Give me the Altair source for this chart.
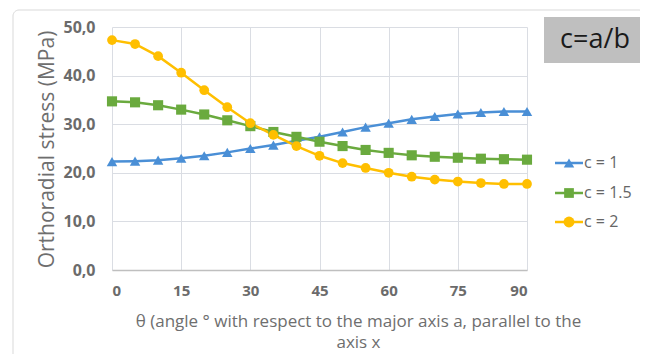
import altair as alt
import pandas as pd

angles = [0, 5, 10, 15, 20, 25, 30, 35, 40, 45, 50, 55, 60, 65, 70, 75, 80, 85, 90]
c1 = [22.3, 22.4, 22.6, 23.0, 23.5, 24.2, 25.0, 25.7, 26.6, 27.4, 28.4, 29.4, 30.2, 31.0, 31.6, 32.1, 32.4, 32.6, 32.6]
c15 = [34.7, 34.5, 33.9, 33.0, 32.0, 30.8, 29.6, 28.4, 27.4, 26.4, 25.5, 24.7, 24.1, 23.6, 23.3, 23.1, 22.9, 22.8, 22.7]
c2 = [47.3, 46.5, 44.0, 40.6, 37.0, 33.5, 30.2, 27.8, 25.5, 23.5, 22.0, 21.0, 20.0, 19.2, 18.6, 18.2, 17.9, 17.7, 17.7]

series_names = ["c = 1", "c = 1.5", "c = 2"]
series_values = [c1, c15, c2]
colors = ["#4A8FD6", "#6AAA3E", "#FFBF00"]
shapes = ["triangle-up", "square", "circle"]
sizes = [110, 95, 120]

rows = []
for name, vals in zip(series_names, series_values):
    for a, v in zip(angles, vals):
        rows.append({"angle": a, "stress": v, "series": name})
df = pd.DataFrame(rows)

W, H = 415, 243

x_enc = alt.X("angle:Q", scale=alt.Scale(domain=[0, 90], nice=False),
              axis=alt.Axis(values=[0, 15, 30, 45, 60, 75, 90],
                            title=["θ (angle ° with respect to the major axis a, parallel to the", "axis x"],
                            titleX=246, titleY=51, titleAlign="center", titleBaseline="middle",
                            titleFontSize=17, titleFontWeight="normal", titleColor="#6e6e6e",
                            titleFont="Open Sans", titleLineHeight=21,
                            labelFontSize=15, labelFontWeight="bold", labelColor="#6b6b6b",
                            labelFont="Open Sans", labelPadding=13,
                            grid=True, gridColor="#DADDE3", ticks=False,
                            domainColor="#BFBFBF", domainWidth=1.5))
y_enc = alt.Y("stress:Q", scale=alt.Scale(domain=[0, 50], nice=False),
              axis=alt.Axis(values=[0, 10, 20, 30, 40, 50],
                            labelExpr="replace(format(datum.value, '.1f'), '.', ',')",
                            title="Orthoradial stress (MPa)",
                            titleX=-65, titleY=122, titleAlign="center", titleBaseline="middle",
                            titleFontSize=21, titleFontWeight="normal", titleColor="#6e6e6e",
                            titleFont="Open Sans",
                            labelFontSize=16, labelFontWeight="bold", labelColor="#6b6b6b",
                            labelFont="Open Sans", labelPadding=17,
                            grid=True, gridColor="#DADDE3", ticks=False, domain=False))

color_scale = alt.Scale(domain=series_names, range=colors)
shape_scale = alt.Scale(domain=series_names, range=shapes)
size_scale = alt.Scale(domain=series_names, range=sizes)

lines = alt.Chart(df).mark_line(strokeWidth=2.5).encode(
    x=x_enc, y=y_enc,
    color=alt.Color("series:N", scale=color_scale, legend=None),
    detail="series:N",
)
points = alt.Chart(df).mark_point(filled=True, opacity=1).encode(
    x="angle:Q", y="stress:Q",
    color=alt.Color("series:N", scale=color_scale, legend=None),
    shape=alt.Shape("series:N", scale=shape_scale, legend=None),
    size=alt.Size("series:N", scale=size_scale, legend=None),
)

# outer frame
frame = alt.Chart(pd.DataFrame({"k": [0]})).mark_rect(
    fill=None, stroke="#D9D9D9", strokeWidth=1, cornerRadius=6
).encode(x=alt.value(-99), x2=alt.value(533), y=alt.value(-17), y2=alt.value(345))

# title box
box = alt.Chart(pd.DataFrame({"k": [0]})).mark_rect(fill="#BFBFBF").encode(
    x=alt.value(432), x2=alt.value(534), y=alt.value(-10), y2=alt.value(36))
box_text = alt.Chart(pd.DataFrame({"t": ["c=a/b"]})).mark_text(
    fontSize=27, font="Open Sans", color="#1a1a1a", align="center", baseline="middle"
).encode(x=alt.value(483), y=alt.value(13), text="t:N")

# manual legend
leg_y = [136, 166, 195]
legend_layers = []
for name, col, shp, sz, ly in zip(series_names, colors, shapes, sizes, leg_y):
    d = pd.DataFrame({"t": [name]})
    legend_layers.append(alt.Chart(d).mark_rule(color=col, strokeWidth=2.5).encode(
        x=alt.value(443), x2=alt.value(471), y=alt.value(ly)))
    legend_layers.append(alt.Chart(d).mark_point(filled=True, opacity=1, color=col, shape=shp, size=sz).encode(
        x=alt.value(457), y=alt.value(ly)))
    legend_layers.append(alt.Chart(d).mark_text(
        fontSize=16, font="Open Sans", color="#666666", align="left", baseline="middle"
    ).encode(x=alt.value(472), y=alt.value(ly), text="t:N"))

chart = alt.layer(frame, lines, points, box, box_text, *legend_layers).properties(
    width=W, height=H,
    autosize=alt.AutoSizeParams(type="none"),
    padding={"left": 104, "top": 19, "right": 113, "bottom": 84},
    background="white",
).configure_view(stroke=None)

chart.save("out.html", embed_options={"renderer": "svg", "actions": False})
